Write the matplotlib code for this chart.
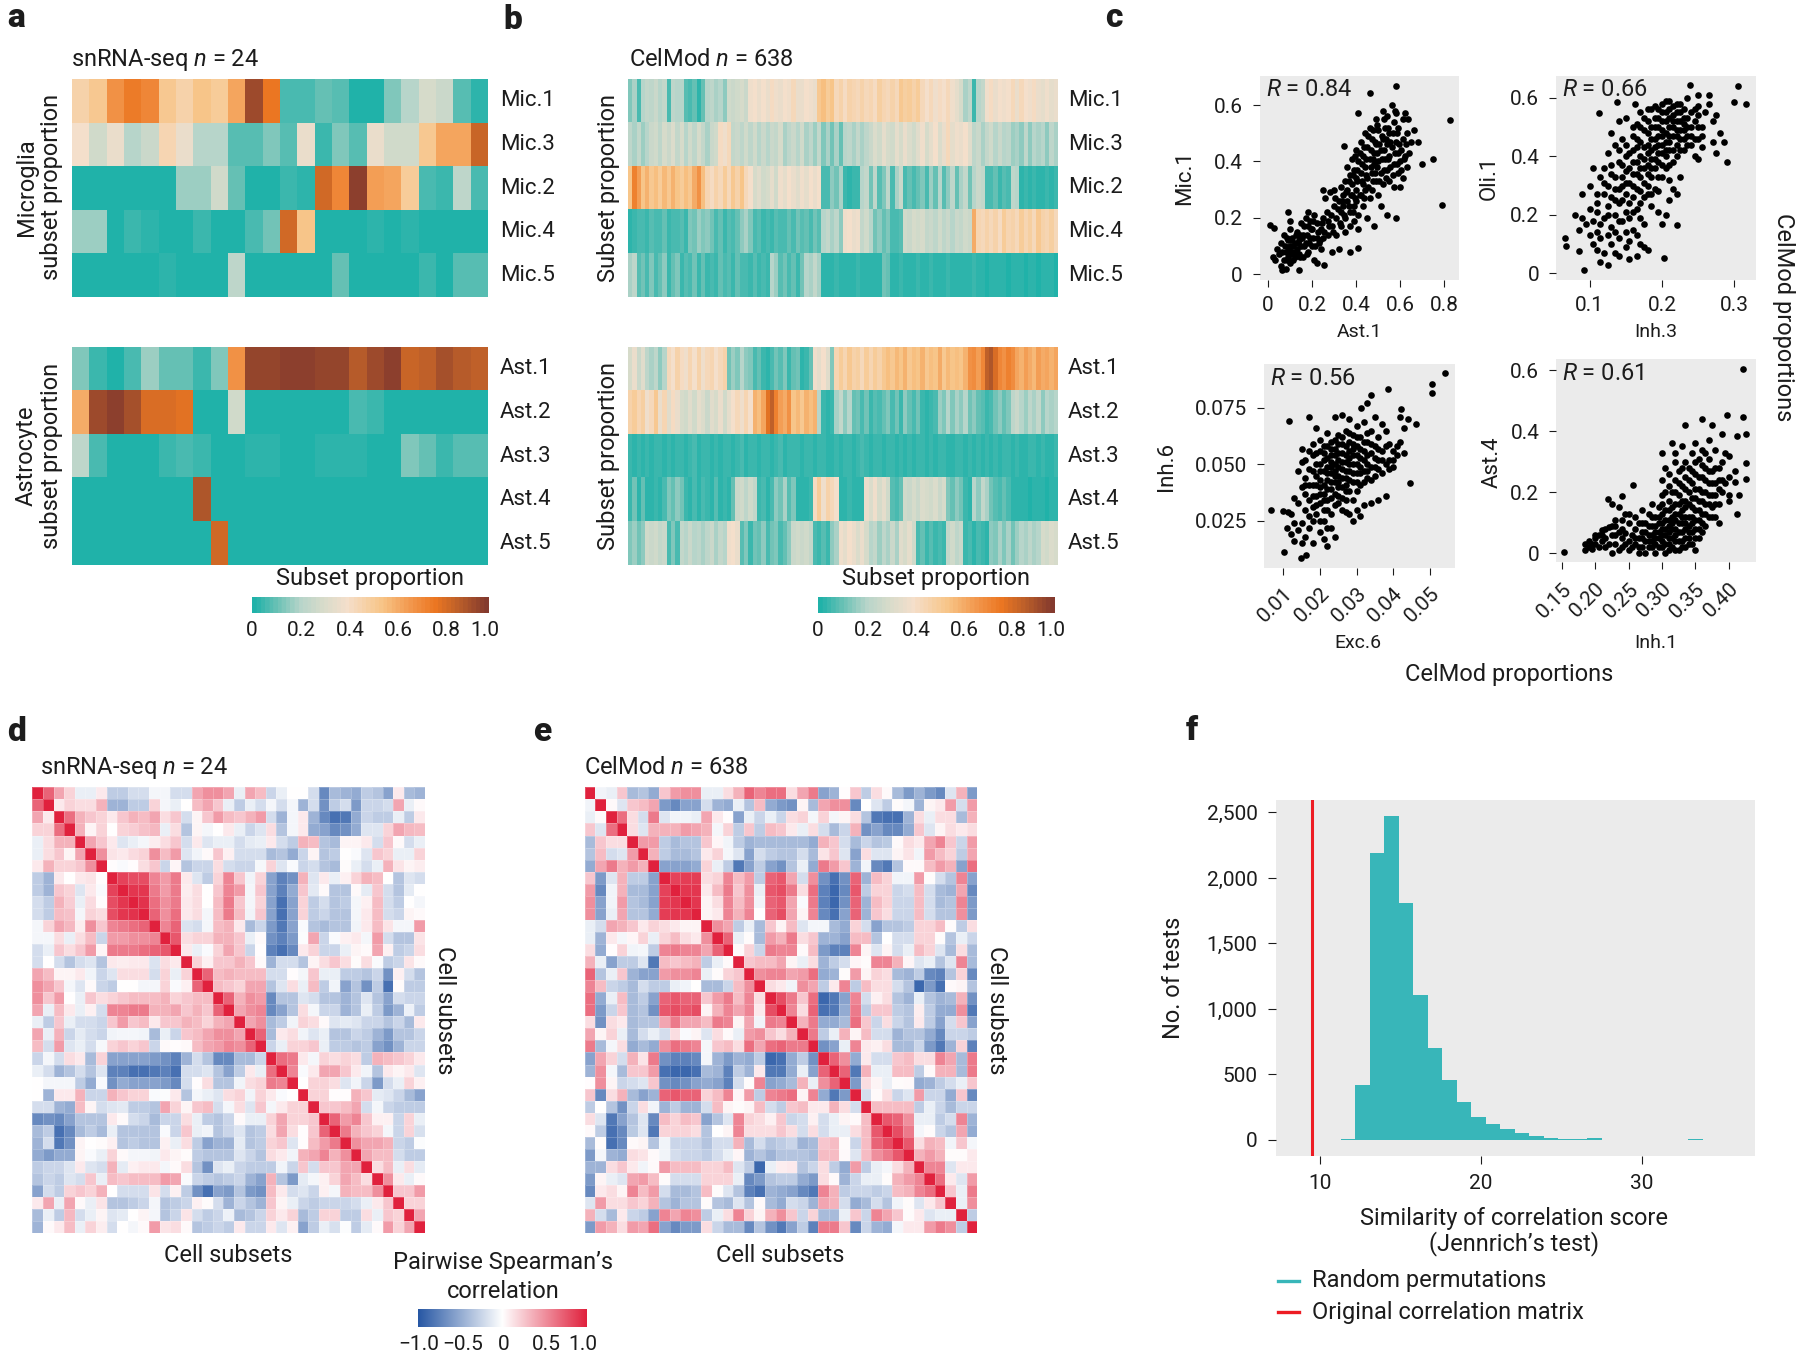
#!/usr/bin/env python3
"""Cell subset proportions: snRNA-seq vs CelMod heatmaps, scatters, correlation matrices."""
import matplotlib as mpl
mpl.use("Agg")
import matplotlib.pyplot as plt
import numpy as np
from matplotlib.colors import LinearSegmentedColormap

W, H = 1800, 1357
INK = "#1c1c1c"
FS = 17
mpl.rcParams.update({
    "font.family": ["Roboto", "DejaVu Sans"], "font.size": 15, "text.color": INK,
    "mathtext.fontset": "custom", "mathtext.it": "Roboto:italic", "mathtext.rm": "Roboto",
    "axes.edgecolor": INK, "xtick.color": INK, "ytick.color": INK,
})

MIC_LABELS = ["Mic.1", "Mic.3", "Mic.2", "Mic.4", "Mic.5"]
AST_LABELS = ["Ast.1", "Ast.2", "Ast.3", "Ast.4", "Ast.5"]

# panel a, one row per subset, 24 donors
SN_MIC = [
    [.48, .52, .68, .76, .73, .53, .48, .55, .5, .63, .93, .78, .07, .07, .09, .08, .01, .01, .13, .2, .3, .26, .08, .03],
    [.4, .27, .36, .2, .25, .45, .37, .2, .2, .08, .08, .14, .08, .36, .04, .13, .08, .37, .27, .27, .53, .63, .63, .85],
    [0, 0, 0, 0, 0, 0, .17, .17, .27, .1, 0, 0, .04, .03, .83, .72, .98, .66, .63, .5, .07, .05, .22, .07],
    [.17, .17, 0, .05, .03, 0, 0, .05, 0, 0, .07, .12, .83, .54, 0, 0, 0, .02, 0, .02, 0, 0, 0, 0],
    [0, 0, 0, 0, 0, .03, 0, 0, 0, .23, 0, 0, 0, 0, 0, .1, 0, 0, 0, 0, .05, 0, .08, .08],
]
SN_AST = [
    [.13, .04, .01, .06, .17, .1, .1, .05, .13, .68, .95, .96, .98, .98, .95, .95, .88, .94, .98, .84, .86, .92, .88, .86],
    [.62, .93, .98, .92, .82, .82, .79, 0, 0, .27, 0, 0, 0, 0, 0, 0, .06, .04, 0, 0, 0, 0, 0, 0],
    [.23, .07, 0, 0, 0, .05, .07, .05, 0, 0, .03, .03, 0, 0, .03, .03, .03, 0, 0, .14, .1, .05, .08, .08],
    [0, 0, 0, 0, 0, 0, 0, .9, 0, 0, 0, 0, 0, 0, 0, 0, 0, 0, 0, 0, 0, 0, 0, 0],
    [0, 0, 0, 0, 0, 0, 0, 0, .83, 0, 0, 0, 0, 0, 0, 0, 0, 0, 0, 0, 0, 0, 0, 0],
]

# panel b, read as 100 bins across the 638 samples, in percent
CM_MIC = [
    [14, 18, 7, 20, 24, 22, 25, 20, 24, 6, 22, 20, 21, 8, 6, 9, 3, 9, 20, 23, 18, 21, 16, 28, 25, 27, 29, 26,
     38, 41, 36, 40, 37, 42, 38, 36, 41, 38, 43, 37, 36, 41, 39, 37, 52, 56, 50, 54, 44, 47, 42, 48, 45, 43, 47, 44,
     46, 42, 49, 45, 43, 47, 44, 52, 49, 51, 48, 50, 44, 41, 43, 39, 42, 40, 43, 38, 35, 30, 18, 22, 5, 20, 24,
     39, 42, 36, 41, 38, 40, 43, 37, 44, 41, 39, 42, 36, 34, 38, 35, 37],
    [22, 18, 24, 17, 20, 25, 28, 22, 30, 26, 31, 24, 29, 21, 27, 23, 30, 24, 19, 26, 28, 42, 38, 44,
     24, 26, 22, 28, 23, 27, 21, 25, 20, 26, 24, 29, 18, 22, 25, 20, 27, 19, 23, 17, 24, 14, 18, 12, 19, 9,
     20, 23, 18, 24, 19, 22, 25, 32, 28, 35, 30, 27, 34, 29, 36, 31, 27, 33, 38, 30, 35, 41, 32, 37, 43, 34, 39, 36, 40, 33,
     22, 26, 19, 24, 28, 21, 25, 20, 23, 17, 19, 15, 22, 16, 20, 18, 21, 16, 23, 19],
    [55, 74, 66, 55, 60, 52, 57, 50, 58, 53, 60, 55, 50, 57, 52, 62, 68, 56, 46, 42, 48, 44, 50, 43, 52, 47, 54, 44, 41,
     30, 33, 27, 29, 35, 28, 38, 34, 40, 36, 33, 39, 35, 41, 37, 40, 7, 6, 16, 12, 18, 4, 3, 5, 4,
     20, 24, 12, 22, 8, 14, 23, 6, 19, 25, 7, 9, 6, 10, 14, 6, 17, 10, 20, 8, 15, 22, 9, 18, 24, 12, 20, 26, 24,
     7, 6, 9, 5, 8, 7, 22, 20, 3, 4, 2, 5, 3, 2, 4, 3, 5],
    [2, 5, 6, 7, 5, 8, 6, 7, 9, 5, 7, 6, 8, 5, 14, 12, 17, 13, 15, 11, 7, 9, 5, 8, 6, 9, 15, 18, 13,
     6, 8, 5, 7, 4, 8, 6, 7, 9, 7, 11, 8, 10, 7, 12, 8, 20, 24, 18, 22, 16, 38, 40, 37, 39, 24, 27, 20, 12, 15, 10, 14,
     7, 6, 8, 28, 26, 30, 27, 29, 24, 26, 22, 27, 23, 25, 21, 26, 24, 28, 25,
     62, 46, 43, 48, 44, 47, 42, 50, 45, 48, 43, 51, 46, 49, 44, 52, 47, 45, 49, 43],
    [18, 22, 8, 12, 7, 14, 6, 10, 16, 5, 9, 13, 4, 8, 6, 11, 5, 9, 4, 7, 5, 10, 6, 8, 4, 9, 6, 7, 5, 8,
     4, 6, 5, 20, 17, 8, 11, 6, 9, 5, 12, 21, 18, 24, 19,
     2, 3, 2, 4, 2, 3, 3, 2, 4, 3, 2, 3, 2, 3, 12, 9, 3, 2, 4, 3, 3, 2, 4, 3, 2, 5, 3, 2, 3, 4,
     2, 3, 2, 2, 3, 4, 2, 3, 1, 2, 3, 2, 2, 1, 2, 3, 2, 1, 2, 2, 1, 2, 3, 2, 1],
]
CM_AST = [
    [30, 36, 25, 33, 22, 18, 22, 16, 20, 44, 40, 47, 42, 38, 45, 41, 47, 39, 44, 46, 40, 43, 48, 12, 17, 14, 20, 16, 13,
     7, 10, 5, 3, 6, 12, 8, 14, 5, 9, 11, 3, 5, 9, 38, 34, 40, 33, 14, 46, 50, 45, 52, 47, 49, 44, 51, 46, 50, 48, 52,
     56, 53, 58, 54, 60, 52, 57, 55, 59, 53, 56, 54, 61, 52, 58, 55, 57, 54, 60, 68, 70, 66, 72, 86, 90, 82,
     72, 68, 74, 70, 63, 60, 66, 62, 58, 65, 61, 64, 59, 63],
    [47, 51, 45, 49, 38, 44, 52, 36, 46, 33, 42, 37, 30, 27, 33, 28, 35, 31, 26, 33, 29, 36, 27, 34,
     40, 44, 38, 45, 41, 60, 56, 63, 80, 86, 74, 66, 62, 69, 54, 58, 52, 60, 56, 59, 20, 4, 3, 5, 18, 24, 16, 21,
     9, 12, 7, 11, 5, 8, 6, 10, 13, 7, 11, 5, 16, 9, 6, 12, 5, 3, 4, 6, 17, 14, 20, 13, 18, 15, 21, 12, 16, 10, 8,
     5, 7, 12, 15, 10, 13, 22, 25, 20, 17, 23, 19, 24, 16, 21, 18, 20],
    [4, 3, 5, 3, 4, 2, 4, 5, 3, 4, 3, 5, 4, 3, 4, 6, 3, 4, 5, 3, 4, 3, 5, 4, 3, 4, 6, 3, 5, 4,
     3, 4, 5, 3, 4, 6, 3, 4, 5, 4, 3, 5, 4, 3, 4, 5, 2, 3, 4, 3, 5, 4, 3, 4, 6, 4, 3, 5, 4, 3,
     4, 5, 3, 4, 2, 4, 3, 5, 4, 3, 4, 3, 5, 4, 2, 3, 4, 5, 3, 4, 3, 4, 2, 5, 3, 4, 3, 5, 4, 3,
     4, 3, 2, 4, 5, 3, 4, 2, 3, 4],
    [5, 12, 3, 10, 3, 2, 4, 3, 6, 14, 10, 16, 12, 5, 3, 7, 2, 6, 4, 3, 8, 2, 5, 3, 9, 25, 28, 22, 27, 24,
     4, 7, 3, 6, 16, 12, 18, 8, 14, 3, 2, 3, 4, 42, 50, 38, 48, 44, 40, 3, 2, 4, 3, 2, 3, 36, 32, 38, 30, 34, 28,
     8, 6, 9, 28, 25, 30, 26, 32, 29, 27, 31, 25, 29, 13, 10, 15, 11, 4, 3, 20, 16, 24, 18, 12, 8, 6, 10, 7,
     3, 2, 2, 3, 1, 2, 3, 2, 1, 2, 2],
    [14, 17, 11, 15, 27, 25, 28, 24, 26, 6, 14, 7, 24, 21, 26, 20, 23, 19, 22, 25, 18, 24, 21, 38, 40, 36,
     8, 14, 5, 12, 9, 15, 7, 11, 13, 6, 10, 16, 26, 28, 25, 27, 24, 6, 4, 8, 5, 15, 18, 38, 34, 40, 36, 32, 37, 30,
     20, 24, 17, 22, 19, 25, 18, 33, 30, 35, 28, 6, 9, 5, 8, 4, 7, 5, 24, 27, 22, 26, 4, 7, 3, 6, 5, 3,
     16, 13, 18, 14, 19, 12, 17, 21, 19, 23, 18, 20, 30, 28, 31, 29],
]

# panel c, (x, y)
AST1_MIC1 = [(.582, .669), (.462, .641), (.409, .57), (.823, .546), (.789, .245), (.749, .407), (.7, .392), (.344, .456),
    (.01, .174), (.028, .165), (.406, .092), (.372, .079), (.255, .034), (.141, .013), (.062, .014),
    (.02, .06), (.03, .05), (.04, .09), (.05, .07), (.06, .03), (.06, .11), (.07, .05), (.07, .14), (.08, .08), (.08, .02),
    (.09, .12), (.09, .06), (.1, .1), (.1, .04), (.1, .16), (.11, .08), (.11, .13), (.12, .06), (.12, .11), (.09, .22), (.1, .19),
    (.13, .09), (.13, .15), (.14, .07), (.14, .12), (.15, .1), (.15, .18), (.16, .06), (.16, .14), (.17, .2), (.17, .11), (.18, .08),
    (.18, .17), (.18, .22), (.19, .13), (.19, .19), (.2, .1), (.2, .16), (.21, .21), (.21, .05), (.22, .13), (.22, .18), (.22, .04),
    (.23, .11), (.24, .16), (.24, .09), (.25, .2), (.25, .13), (.25, .3), (.26, .27), (.27, .19), (.27, .14), (.28, .29), (.29, .08),
    (.29, .17), (.3, .24), (.3, .3), (.31, .2), (.31, .14), (.32, .26), (.32, .09), (.33, .22), (.33, .31), (.33, .17), (.34, .28),
    (.34, .24), (.35, .2), (.35, .33), (.35, .15), (.36, .26), (.36, .38), (.36, .3), (.37, .22), (.37, .35), (.37, .17), (.38, .28),
    (.38, .41), (.38, .32), (.39, .24), (.39, .37), (.39, .19), (.4, .3), (.4, .34), (.4, .26), (.4, .44), (.41, .4), (.41, .21),
    (.41, .16), (.42, .28), (.42, .36), (.42, .47), (.43, .32), (.43, .42), (.43, .24), (.44, .38), (.44, .3), (.44, .5), (.45, .45),
    (.45, .34), (.45, .2), (.46, .41), (.46, .27), (.46, .52), (.47, .36), (.47, .48), (.47, .3), (.48, .43), (.48, .17), (.48, .39),
    (.49, .33), (.49, .55), (.49, .46), (.5, .4), (.5, .28), (.5, .51), (.51, .36), (.51, .44), (.51, .24), (.52, .48), (.52, .58),
    (.52, .32), (.53, .41), (.53, .52), (.54, .37), (.54, .46), (.54, .56), (.54, .21), (.55, .33), (.55, .42), (.55, .5), (.56, .6),
    (.56, .45), (.57, .39), (.57, .54), (.57, .31), (.58, .47), (.58, .57), (.58, .2), (.59, .36), (.59, .43), (.59, .52), (.6, .4),
    (.6, .31), (.61, .48), (.61, .55), (.61, .34), (.62, .42), (.62, .57), (.63, .38), (.63, .5), (.64, .43), (.65, .47), (.66, .51), (.68, .47),
    (.065, .08), (.075, .1), (.085, .05), (.085, .13), (.095, .09), (.105, .07), (.105, .12), (.115, .05), (.115, .1), (.125, .14),
    (.125, .08), (.135, .11), (.145, .06), (.145, .14), (.155, .13), (.165, .1), (.165, .17), (.175, .14), (.175, .07), (.185, .11),
    (.195, .16), (.205, .13), (.205, .19), (.215, .1), (.225, .15), (.235, .12), (.245, .18), (.255, .15), (.265, .22), (.275, .17),
    (.285, .21), (.295, .15), (.305, .27), (.315, .23), (.325, .18), (.335, .26), (.345, .21), (.355, .29), (.365, .24), (.365, .33),
    (.375, .28), (.385, .35), (.385, .22), (.395, .27), (.395, .42), (.405, .33), (.405, .37), (.415, .28), (.415, .43), (.425, .33),
    (.425, .39), (.435, .27), (.435, .45), (.445, .35), (.445, .41), (.455, .31), (.455, .49), (.465, .38), (.465, .44), (.475, .33),
    (.475, .41), (.475, .51), (.485, .36), (.485, .47), (.495, .43), (.495, .38), (.495, .53), (.505, .33), (.505, .46), (.515, .41),
    (.515, .49), (.525, .37), (.525, .44), (.525, .55), (.535, .34), (.535, .48), (.545, .41), (.545, .52), (.555, .38), (.555, .47),
    (.565, .35), (.565, .5), (.575, .43), (.575, .58), (.585, .39), (.585, .5), (.595, .46), (.605, .37), (.605, .44), (.615, .41),
    (.625, .46), (.635, .55)]
INH3_OLI1 = [(.239, .642), (.305, .64), (.299, .585), (.316, .577), (.289, .38), (.274, .41), (.113, .549), (.138, .584), (.163, .577),
    (.066, .122), (.067, .095), (.093, .011), (.203, .054), (.221, .166), (.086, .076),
    (.08, .2), (.085, .15), (.09, .19), (.09, .27), (.095, .17), (.1, .13), (.1, .22), (.1, .3), (.105, .1), (.105, .18), (.105, .36),
    (.11, .08), (.11, .14), (.11, .24), (.11, .21), (.115, .04), (.115, .12), (.115, .17), (.115, .33), (.12, .07), (.12, .19), (.12, .27),
    (.12, .36), (.125, .03), (.125, .13), (.125, .23), (.125, .3), (.125, .41), (.13, .1), (.13, .16), (.13, .26), (.13, .34), (.13, .48),
    (.135, .07), (.135, .14), (.135, .2), (.135, .29), (.135, .44), (.14, .06), (.14, .12), (.14, .24), (.14, .38), (.14, .52), (.145, .18),
    (.145, .3), (.145, .33), (.145, .46), (.15, .09), (.15, .14), (.15, .21), (.15, .27), (.15, .4), (.15, .53), (.155, .05), (.155, .11),
    (.155, .19), (.155, .36), (.155, .31), (.16, .15), (.16, .21), (.16, .26), (.16, .42), (.16, .38), (.16, .47), (.165, .06), (.165, .13),
    (.165, .34), (.165, .29), (.165, .51), (.17, .1), (.17, .19), (.17, .24), (.17, .4), (.17, .36), (.17, .45), (.17, .55), (.175, .09),
    (.175, .17), (.175, .31), (.175, .43), (.175, .49), (.18, .08), (.18, .27), (.18, .37), (.18, .41), (.18, .34), (.18, .52), (.185, .23),
    (.185, .39), (.185, .46), (.185, .56), (.19, .29), (.19, .36), (.19, .43), (.19, .5), (.19, .57), (.195, .21), (.195, .28), (.195, .38),
    (.195, .47), (.195, .53), (.2, .17), (.2, .33), (.2, .41), (.2, .49), (.2, .55), (.205, .2), (.205, .45), (.205, .52), (.205, .59),
    (.205, .36), (.21, .25), (.21, .32), (.21, .42), (.21, .5), (.21, .56), (.215, .29), (.215, .47), (.215, .54), (.215, .38), (.22, .27),
    (.22, .44), (.22, .52), (.22, .58), (.225, .33), (.225, .49), (.225, .55), (.23, .46), (.23, .42), (.23, .53), (.235, .5), (.235, .6),
    (.24, .55), (.24, .44), (.24, .47), (.245, .4), (.245, .52), (.25, .57), (.25, .46), (.25, .39), (.255, .5), (.255, .43), (.26, .55),
    (.265, .61), (.265, .58), (.27, .52), (.27, .45), (.275, .54), (.28, .48), (.285, .45), (.25, .61),
    (.11, .27), (.12, .31), (.125, .2), (.13, .37), (.135, .25), (.135, .33), (.14, .29), (.14, .18), (.14, .42), (.145, .25), (.145, .37),
    (.15, .31), (.15, .35), (.15, .44), (.155, .24), (.155, .41), (.16, .3), (.16, .34), (.16, .5), (.165, .22), (.165, .38), (.165, .43),
    (.165, .46), (.17, .28), (.17, .33), (.17, .5), (.175, .26), (.175, .36), (.175, .39), (.175, .53), (.18, .3), (.18, .44), (.18, .48),
    (.18, .56), (.185, .27), (.185, .33), (.185, .36), (.185, .42), (.185, .5), (.19, .39), (.19, .46), (.19, .53), (.195, .33), (.195, .41),
    (.195, .44), (.195, .5), (.195, .56), (.2, .37), (.2, .44), (.2, .47), (.2, .52), (.2, .58), (.205, .4), (.205, .42), (.205, .48),
    (.205, .55), (.21, .37), (.21, .45), (.21, .47), (.21, .53), (.21, .59), (.215, .42), (.215, .5), (.215, .52), (.215, .57), (.22, .4),
    (.22, .47), (.22, .49), (.22, .55), (.225, .42), (.225, .46), (.225, .52), (.225, .58), (.23, .49), (.23, .51), (.23, .56), (.235, .44),
    (.235, .47), (.235, .53), (.24, .5), (.245, .46), (.245, .56), (.25, .5), (.25, .54), (.255, .47)]
EXC6_INH6 = [(.0542, .0904), (.0507, .0855), (.0506, .0815), (.0386, .0834), (.0339, .0808), (.0329, .0771), (.0313, .0751), (.0116, .0692),
    (.0171, .0709), (.0067, .03), (.0446, .0416), (.0463, .0679), (.0423, .0747), (.0102, .011), (.0149, .0083), (.0161, .0098),
    (.0098, .0294), (.0112, .0291),
    (.011, .022), (.012, .019), (.012, .028), (.013, .016), (.013, .024), (.013, .035), (.014, .047), (.014, .021), (.014, .033), (.015, .015),
    (.015, .024), (.015, .04), (.015, .051), (.015, .057), (.016, .018), (.016, .03), (.016, .037), (.016, .044), (.016, .052), (.017, .022),
    (.017, .027), (.017, .034), (.017, .048), (.017, .056), (.018, .015), (.018, .025), (.018, .031), (.018, .041), (.018, .054), (.018, .059),
    (.019, .028), (.019, .036), (.019, .045), (.019, .05), (.019, .066), (.02, .02), (.02, .033), (.02, .04), (.02, .047), (.02, .056), (.02, .061),
    (.021, .017), (.021, .025), (.021, .03), (.021, .037), (.021, .052), (.021, .058), (.022, .014), (.022, .022), (.022, .034), (.022, .043),
    (.022, .049), (.022, .064), (.023, .028), (.023, .039), (.023, .046), (.023, .054), (.023, .06), (.024, .018), (.024, .032), (.024, .042),
    (.024, .05), (.024, .057), (.024, .071), (.025, .036), (.025, .045), (.025, .052), (.025, .063), (.026, .03), (.026, .04), (.026, .048),
    (.026, .055), (.026, .059), (.026, .072), (.027, .034), (.027, .044), (.027, .051), (.027, .065), (.028, .028), (.028, .038), (.028, .047),
    (.028, .056), (.028, .06), (.028, .07), (.029, .025), (.029, .042), (.029, .05), (.029, .054), (.029, .063), (.03, .03), (.03, .046),
    (.03, .058), (.03, .067), (.031, .027), (.031, .041), (.031, .053), (.031, .062), (.032, .032), (.032, .047), (.032, .056), (.032, .069),
    (.033, .044), (.033, .05), (.033, .06), (.034, .033), (.034, .043), (.034, .055), (.034, .065), (.035, .049), (.035, .058), (.035, .071),
    (.036, .034), (.036, .052), (.036, .062), (.037, .046), (.037, .056), (.037, .068), (.038, .036), (.038, .05), (.038, .065), (.039, .052),
    (.039, .059), (.04, .049), (.04, .056), (.041, .054), (.042, .06), (.042, .071), (.043, .055), (.043, .066), (.044, .07), (.041, .058),
    (.016, .041), (.017, .041), (.018, .047), (.018, .036), (.019, .032), (.019, .041), (.019, .055), (.02, .037), (.02, .043), (.02, .05),
    (.02, .025), (.021, .041), (.021, .047), (.021, .055), (.021, .034), (.022, .03), (.022, .039), (.022, .046), (.022, .053), (.022, .058),
    (.023, .035), (.023, .042), (.023, .049), (.023, .051), (.023, .057), (.023, .022), (.024, .037), (.024, .045), (.024, .047), (.024, .054),
    (.024, .061), (.025, .033), (.025, .04), (.025, .042), (.025, .049), (.025, .055), (.025, .059), (.026, .035), (.026, .044), (.026, .051),
    (.026, .062), (.027, .038), (.027, .041), (.027, .047), (.027, .054), (.027, .058), (.027, .029), (.028, .043), (.028, .05), (.028, .053),
    (.028, .064), (.029, .034), (.029, .046), (.029, .057), (.029, .059), (.03, .038), (.03, .042), (.03, .05), (.03, .054), (.03, .062),
    (.031, .046), (.031, .049), (.031, .057), (.032, .042), (.032, .052), (.032, .06), (.033, .047), (.033, .054), (.033, .064), (.034, .049),
    (.034, .059), (.035, .045), (.035, .053), (.036, .057), (.036, .048), (.037, .052), (.038, .058), (.039, .048), (.04, .052)]
INH1_AST4 = [(.421, .605), (.154, .004), (.3975, .452), (.421, .448), (.334, .421), (.36, .439), (.257, .224), (.24, .189), (.2195, .177),
    (.412, .127), (.426, .39), (.426, .297), (.426, .243), (.412, .385),
    (.185, .01), (.185, .03), (.19, .02), (.19, .04), (.195, .015), (.2, .03), (.2, .05), (.205, .02), (.205, .06), (.21, .04), (.21, .075),
    (.215, .02), (.215, .05), (.22, .085), (.22, .03), (.225, .0), (.225, .06), (.225, .16), (.23, .03), (.23, .09), (.23, .11), (.235, .15),
    (.235, .01), (.24, .05), (.24, .02), (.24, .11), (.245, .03), (.245, .065), (.25, .13), (.25, .01), (.25, .04), (.25, .1), (.255, .06),
    (.255, .02), (.26, .08), (.26, .03), (.26, .12), (.265, .0), (.265, .05), (.265, .1), (.27, .02), (.27, .07), (.27, .14), (.275, .04),
    (.275, .1), (.275, .0), (.28, .06), (.28, .13), (.28, .02), (.285, .09), (.285, .16), (.285, .04), (.29, .0), (.29, .07), (.29, .12),
    (.29, .03), (.295, .15), (.295, .05), (.295, .1), (.3, .02), (.3, .08), (.3, .19), (.3, .33), (.3, .24), (.3, .13), (.305, .0), (.305, .06),
    (.305, .11), (.305, .28), (.31, .03), (.31, .09), (.31, .17), (.31, .22), (.31, .26), (.31, .14), (.315, .05), (.315, .12), (.315, .2),
    (.315, .36), (.32, .01), (.32, .08), (.32, .16), (.32, .24), (.32, .3), (.32, .33), (.325, .04), (.325, .1), (.325, .19), (.325, .27),
    (.33, .02), (.33, .07), (.33, .14), (.33, .22), (.33, .35), (.335, .05), (.335, .12), (.335, .17), (.335, .25), (.335, .3), (.34, .03),
    (.34, .09), (.34, .2), (.34, .28), (.345, .07), (.345, .15), (.345, .23), (.345, .33), (.35, .01), (.35, .05), (.35, .11), (.35, .18),
    (.35, .26), (.35, .36), (.355, .08), (.355, .14), (.355, .21), (.355, .31), (.36, .1), (.36, .17), (.36, .25), (.36, .34), (.365, .13),
    (.365, .2), (.365, .28), (.37, .16), (.37, .23), (.37, .31), (.37, .37), (.375, .12), (.375, .19), (.375, .27), (.375, .42), (.38, .16),
    (.38, .23), (.38, .34), (.385, .1), (.385, .21), (.385, .28), (.39, .24), (.39, .39), (.395, .33), (.4, .19), (.4, .17), (.4, .32),
    (.41, .27), (.41, .235), (.415, .19),
    (.195, .03), (.2, .06), (.21, .06), (.215, .08), (.225, .09), (.23, .06), (.235, .07), (.24, .08), (.245, .13),
    (.26, .05), (.265, .02), (.27, .05), (.27, .1), (.275, .07), (.28, .04), (.28, .09), (.285, .02), (.285, .06), (.285, .12), (.29, .05),
    (.29, .09), (.295, .02), (.295, .07), (.295, .12), (.3, .04), (.3, .06), (.3, .1), (.3, .16), (.305, .03), (.305, .08), (.305, .14),
    (.305, .2), (.31, .01), (.31, .05), (.31, .07), (.31, .11), (.315, .02), (.315, .08), (.315, .1), (.315, .15), (.32, .04), (.32, .06),
    (.32, .11), (.32, .13), (.32, .2), (.325, .01), (.325, .07), (.325, .13), (.325, .16), (.325, .23), (.33, .04), (.33, .1), (.33, .12),
    (.33, .17), (.33, .28), (.335, .02), (.335, .08), (.335, .1), (.335, .15), (.335, .21), (.34, .05), (.34, .07), (.34, .12), (.34, .16),
    (.34, .24), (.345, .03), (.345, .1), (.345, .12), (.345, .18), (.345, .27), (.35, .08), (.35, .14), (.35, .21), (.35, .3), (.355, .05),
    (.355, .11), (.355, .17), (.355, .25), (.36, .07), (.36, .13), (.36, .2), (.36, .29), (.365, .09), (.365, .16), (.365, .24), (.365, .33),
    (.37, .12), (.37, .19), (.37, .27), (.375, .15), (.375, .23), (.38, .12), (.38, .19), (.38, .28), (.385, .16), (.385, .24), (.39, .2),
    (.39, .3), (.395, .23), (.4, .25)]

# panels d, e: upper triangle of the 37 x 37 matrices, in tenths
CORR_SN = [
    [7, 4, 2, -1, -1, 1, -3, -3, -2, -2, -.5, -.5, -2, -2, 4, 5, 5, 4, -1, 4, 3, -2.5, -1, 0, 0, -2, -7, -4, -4.5, -5, -3, -3.5, -5.5, 1, -4, -4.5],
    [1, 2, 1.5, 1.5, 3.5, -4.5, -4.5, -3, -3, 2, -.5, -1, 0, 3, 4, 2.5, -1, -3, -1, -2, -.5, -2, -.5, -4.5, -2, -6.5, -3, -2, -6, -2.5, -2.5, -2, 4, -1, .3],
    [6.5, 3.5, 2.5, 2, 1, 2.5, 3.5, 3, 4, 1.5, 2.5, -2, .5, 2.5, 4.5, 3, 2.5, 3.5, 4.5, -2, -4.5, -.5, 1, -4.5, -7, -8.5, -8, -5, -2.5, -3, -3, -1, -3, 1],
    [3.5, .5, 2, 0, 2, 2.2, 2.8, 3.2, -1, 1.5, -3.5, .5, -.5, 0, 1, -1, -2.5, -1.5, 1.5, -3.5, -.5, 1, -5, -5.5, -7, -6.5, -5, -1.5, -1.5, 2, 4, 3.2, 3],
    [4, 2.5, 1, -1.5, -1, -.5, .8, 1.5, 2.5, -2, 1, -1.5, -1, -1, -2, -1.2, -1, 1, -2, -3, 3.5, 3, -3.5, -4, .5, .5, 1, -2, 2.5, .3, -2, -1],
    [5, 1.2, 1, 1.6, 2, 5, 3, 4.5, -1.5, -.7, .3, 2.5, .7, -2, -2, -2, -4, -3.5, -5, -2.5, .5, -3.5, -3, 0, -.3, -1.5, 2.5, 2, -1, -1, 2],
    [.1, -.3, .1, 1.5, 2.5, -2.5, .4, -3.5, -2.5, -2.5, 1.5, -2, -2.5, -2.5, -.4, 2, -1.5, -.3, -2.5, -2, -3.5, -4, .2, -1, -2, -1, 3.5, 1.2, .5, .8],
    [8.5, 8, 8, 5.5, 4.5, 6, 1, -1.5, -3, 2, 5.5, 2.5, -.7, 2, -5.5, -7.5, -6.5, 3.5, -1.5, 1, -1, .7, 2, 3.5, 3, 0, -3.5, -1.5, -2],
    [9, 9, 6, 4.5, 6, .8, 1.5, 0, 2.5, 5.5, 4.5, -.5, 2.5, -5.5, -7.5, -5, 2.5, -1.3, .3, -3.5, -3.5, .3, -1.2, 2.5, -2, -3.5, -1.2, 0],
    [9.2, 6.5, 5, 6, 1, 1.5, 0, 3, 6, 2.5, -.5, 2, -5.5, -8.5, -5.5, 2, -3, -2, -3.5, -3, -.5, .7, 3, -2, -3, 0, -.5],
    [7, 5, 6.5, 1, 1.5, -.5, 3, 6, 3, -.7, 2.5, -5.5, -8.5, -5.5, 2, -3, -2.5, -3.5, -3.5, -.5, 1, 3, -2, -2.5, .5, .3],
    [5.5, 7, -1.7, -2, -.5, 3, 3.5, 1, -4, -2.5, -6, -8, -5.5, -.3, -3.5, -4, -3.5, -3.5, -.7, 1, 3, 1.2, -.5, -.5, 4.5],
    [7.5, 1.5, 2, 2, 3.5, 3.5, 2.5, -1, .3, -6.5, -7.5, -6, -.2, 4, -2.5, -.3, .7, 1, -.5, 4.5, -2, -3.5, -3.5, 1.2],
    [1, -1, -.3, 2, 4, 2.5, -2.5, .1, -7.5, -8.5, -7, 1, 2, -2.5, -2.5, -1, .5, .3, 4, .7, -3, -2.5, 1.5],
    [2, .7, 2.5, 2.5, 3.5, 2.5, .3, -4.5, -2, -2, -3.5, .5, 1.5, 2.5, 1.5, .2, 1.5, -.3, -3, -2.5, 1.2, .3],
    [7, 3, 3.5, 3, 3, 3, -2, -2, .1, -.5, 2.5, -1, -1, -3, -3, -3.5, -2.5, -6.5, .7, -2, -3.5],
    [3, 2.5, 2, 4, 4, -3.5, -1.5, 1.5, -1, 3, -3, -.7, -5.5, -3.5, -6.5, -3, -8.5, .2, -3, -3],
    [7, 3.5, 5, 4.5, -7, -3.5, -3.5, -1.5, -2, -3.5, -3.5, -4.5, -3.5, -1.5, -3.5, -5.5, -2, -2.5, -2.5],
    [4, 5, 5.5, -7, -5.5, -3.5, 1.5, -.5, -2.5, -2.5, -4.5, -3.5, -1, -3, -6, -4.5, -.8, -3],
    [4, 5, -4, -3, -.7, 2, 1.5, .3, -1.5, -1.2, -1.5, -2.5, -2.5, -3.5, -2.5, -4, 1],
    [7, -4, 1, 1.5, -.7, -1.5, -1, -3.5, -3.5, -2.5, -3, -4.5, -6, -3.5, -3.5, -2.5],
    [-2.5, -1, 2, 2, 2.5, -1, -3, -3, -3.5, -3, -5.5, -6.5, -4.5, -2.5, -2.5],
    [6.5, 6, 1, -.5, 2, 1.5, 2, 1.5, -3, 3.5, 3, 2.5, 2, 1],
    [5.5, -.3, 1, 4, 4, 2.5, 1, -.7, -3.5, 1, .5, 1, -1.5],
    [0, 2, 2, 1.5, -1.5, -.7, -2.5, -6, -2, -1, 2, .7],
    [2, 2, .1, .1, 3.5, 2.5, -1.2, -1.5, -2.5, -4, -5.5],
    [2.5, 2.5, 3, 4, -2, -.5, -2.5, -3, -3, -3],
    [7, 4.5, 5.5, 2.5, .7, .7, -2.5, 2, -1],
    [6, 3.5, 2.5, 2, -.5, -2.5, 2, -1.8],
    [5, 4, 4, 3.5, -2.5, -3, -.2],
    [4, 3, 3, -2, -3, -3],
    [1.5, 3, -1, 1.5, -1.2],
    [5, 1, -1, .3],
    [2.5, 2.5, 4.5],
    [2, 2],
    [4],
]
CORR_CM = [
    [-.7, -1, 2.5, -4, -3.5, -5, 2.5, 4.5, 5, 5, -1, -1, 1.5, 3.5, 7, 5.5, 6.5, 6.5, 1.5, 4, 6, -5.5, -4.5, .1, 2.5, -3, 1.5, .3, -4, -6, -4.5, -6, -7, -1.5, 3.5, -6],
    [.3, -1.5, 2.5, 3, 4, -6, -7, -5.5, -5.5, -2, -4.5, -5, -1, -3.5, 3, -5, -6, -6.5, .5, -4, 4, 5, 5, -7, 0, -1.5, -3, .2, -.5, -4.5, .5, 1, 4.5, -2, 4.5],
    [6.5, 1.5, -2, 6, -1.5, -.7, -.7, -1, 4, 1, .1, -5.5, -1, -2.5, -1, -2.5, 1.5, 2, -.5, 2, -.5, .5, 1.5, -3.5, -8, -8.5, -8.5, -4.5, 1.5, -1, 1.5, 1.5, -4, 3.5],
    [1.5, -1.5, 3.5, 3.5, 3.5, 4.5, 4, 3.5, -.5, 2, -3, 2.5, -3, 3, 2.5, 1, -1, 1.5, -2, -4, -2.5, 3.5, -6.5, -5.5, -7, -7, -5, 2.5, -1.5, .5, 1.5, 1, 1.5],
    [4.5, 4.5, -3, -4, -3.5, -3.5, 2.5, .4, -.7, -3, -4.5, -4, -4, -4, -4, -4, -5, 3.5, 2.5, -2, -4, -2.5, -3.5, -3.2, .3, 1.5, 1, 4, 5.5, 2.5, -2.5, 4.5],
    [3.5, -3, -4, -4, -3.5, 1, 2, -.5, -1.5, -5.5, -2, -3, -3.5, -3.5, -2, -4, 1.2, 2.5, -1.5, -5.5, 1.5, -1.5, -1.5, .5, 1.2, -.7, 4.5, 3, 2, -3, 4],
    [-5.5, -5.5, -5.5, -5, 2, -1, -3, -8, -5.5, -3, -5.5, -6.5, -3.5, -1, -5, 6, 4.5, 2.5, -4.5, -.7, -7, -8, -3.5, .3, .3, 3, 4.5, 3.5, -5.5, 6.5],
    [8.5, 8.7, 8.7, 1.5, 2, 5.5, 3, 4.5, -3, 7, 7.5, 4, -2, 5, -6.5, -8.5, -6.5, 7, -4.5, 3, 2, -.7, -.7, 4.5, .2, -2, -3.5, 5.5, -5.5],
    [9, 9, 1, 3, 6, 2.5, 5, -1, 7.5, 8, 6, 1.5, 6.5, -7.5, -9, -7, 7.5, -3, 2, 2, -2.5, -2, 3, -2, -4, -4.5, 4, -7],
    [9, .5, 1.5, 5.5, 3, 5, -.7, 7, 7.5, 4, -.3, 6, -7.5, -9, -6.5, 7, -4.5, 3, 2, -2.5, -2.5, 3, -2, -4, -3.5, 5.5, -6],
    [.5, 1, 5.5, 3.5, 5.5, 0, 7, 8, 4, .5, 5.5, -7, -8.5, -5.5, 7, -4.5, 2.5, 1.5, -2.5, -2.5, 3, -2, -3.5, -3.5, 5, -6],
    [5, 4, -3, -1, -4, 2.5, .5, 3, -1.5, -.5, -.5, -4, -5, 2, -2, -5.5, -3.5, -3.5, -3, 2, 2, 3, .2, -3, 1.5],
    [7, -1, .2, -4, 4.5, 3.5, 6, 1.5, 2.5, -4.5, -4.5, -5.5, 3, 3, -3.5, 0, -2, -2, 2, 2, .2, -3.5, -1, -2.5],
    [.3, 2, -2.5, 6, 5.5, 5.5, .3, 3, -6, -7.5, -7.5, 5.5, .5, -1.5, .5, -2, -1, 3, 2, -1.5, -4, 1.5, -4],
    [2.5, 3, 3, 4, .5, -1, 1.5, -4.5, -3, -2, .4, .2, 5.5, 5.5, 3.5, .4, -1.5, -1, -3.5, -1.5, 5.5, -4],
    [5, 5.5, 5.5, 4, 4.5, 6.5, -5, -4.5, .2, 4.5, .5, 2, 1.5, -4, -4.5, -3, -7, -7.5, -3.5, 2, -7],
    [1.5, 1, -.7, 5, 4, -3, 1, 5.5, -3, 3, 1.5, 1.5, -2, -3.5, -9, -6, -8.5, .3, .5, -3.5],
    [8, 6, 2.5, 6.5, -9, -8, -5.5, 5.5, -2, .7, 1.5, -3.5, -4.5, -1, -3.5, -4.5, -4, 3.5, -6.5],
    [5.5, 1.5, 7, -8.5, -8, -5, 6, -3, 2.5, 2.5, -3, -3.5, .8, -3, -5, -5, 5, -8],
    [3.5, 6, -5, -5, -4, 6.5, 2.5, -2.5, 1.5, -2.5, -3.5, 1, -3, -5.5, -2, 2.5, -5.5],
    [6, -3, -1, 3.5, .5, 3, -2, -2, -4.5, -3.5, -3.5, -5, -7, -2.5, -2.5, -3],
    [-6.5, -5.5, -1, 5.5, 1, .7, 1.5, -4, -4, -2.5, -6, -8, -4.5, 2, -7.5],
    [7, 5, -5, 1, -2, -2, 2.5, 3, 1.5, 1.5, 5.5, 4, -4, 6],
    [7, -8, 3.5, -1, -1, 3, 3, -3, .3, 3.5, 3.5, -4, 6],
    [-6, 1.5, .5, -1, .2, .3, -5, -4.5, -3, -2, -1, 2.5],
    [-2, .3, 1.5, -2.5, -1.5, 4.5, -2.5, -2.5, -5, 2.5, -7],
    [3, 3, 3, 3, -3, -1, -2.5, -4, -2.5, -2.5],
    [7.5, 7, 5, -1, -1, -3, -2, 5.5, -4.5],
    [8, 6, -.5, .2, -2.5, -3.5, 4, -5],
    [7.5, 1.5, 3.5, 3, -.7, 2.5, -.5],
    [3.5, 4.5, 3.5, .2, .2, 1],
    [5.5, 5.5, -1.5, 1, 1],
    [6.5, 1, -1.5, 4.5],
    [2.5, -1, 6],
    [-1, 5],
    [-3],
]

# panel f
HIST_LEFT = [8.6, 9.5, 10.4, 11.3, 12.2, 13.1, 14.0, 14.9, 15.8, 16.7, 17.6, 18.5, 19.4, 20.3, 21.2, 22.1, 23.0, 23.9, 24.8, 25.7,
             26.6, 27.5, 28.4, 29.3, 30.2, 31.1, 32.0, 32.9, 33.8, 34.7, 35.6]
HIST_COUNT = [3, 3, 3, 8, 420, 2190, 2470, 1810, 1103, 701, 458, 292, 177, 120, 85, 52, 33, 18, 8, 8, 12, 3, 3, 3, 2, 2, 2, 4, 2, 2, 3]
ORIGINAL_SCORE = 9.5

prop_cmap = LinearSegmentedColormap.from_list("prop", [
    (0, "#20b2a9"), (.1, "#6cc2b6"), (.2, "#b8d5ca"), (.3, "#d9dccb"), (.4, "#f5dfcb"), (.55, "#f8c587"),
    (.68, "#f2954a"), (.78, "#ec7722"), (.88, "#bc5f2a"), (1, "#843a2e")], N=56)
corr_cmap = LinearSegmentedColormap.from_list("corr", ["#2757a4", "#ffffff", "#e0213d"])

fig = plt.figure(figsize=(W / 100, H / 100), dpi=100)


def px_axes(x0, y0, x1, y1):
    return fig.add_axes([x0 / W, 1 - y1 / H, (x1 - x0) / W, (y1 - y0) / H])


def px_text(x, y, s, ha="center", va="center", **kw):
    return fig.text(x / W, 1 - y / H, s, ha=ha, va=va, **kw)


def strip_heatmap(box, values, labels, label_x):
    ax = px_axes(*box)
    ax.imshow(np.array(values, dtype=float), cmap=prop_cmap, vmin=0, vmax=1, aspect="auto", interpolation="nearest")
    ax.axis("off")
    row_h = (box[3] - box[1]) / len(labels)
    for i, lab in enumerate(labels):
        px_text(label_x, box[1] + row_h * (i + .5), lab, ha="left", fontsize=16)


def gradient_bar(box, cmap, labels, label_xs, label_y):
    ax = px_axes(*box)
    ax.imshow(np.linspace(0, 1, 256)[None, :], cmap=cmap, aspect="auto")
    ax.axis("off")
    for x, lab in zip(label_xs, labels):
        px_text(x, label_y, lab, fontsize=15)


def scatter(box, pts, xlim, ylim, xticks, yticks, xfmt, yfmt, r_text, rotate=False):
    ax = px_axes(*box)
    ax.set_facecolor("#ebebeb")
    x, y = np.array(pts).T
    ax.scatter(x, y, s=23, c="black", linewidths=0, zorder=3)
    ax.set_xlim(*xlim)
    ax.set_ylim(*ylim)
    ax.set_xticks(xticks, xfmt)
    ax.set_yticks(yticks, yfmt)
    for s in ax.spines.values():
        s.set_visible(False)
    ax.tick_params(length=5, width=.8, labelsize=15, pad=7)
    if rotate:
        plt.setp(ax.get_xticklabels(), rotation=45, ha="right", rotation_mode="anchor")
    px_text(box[0] + 6, box[1] + 14, r_text, ha="left", fontsize=FS, zorder=5)
    return ax


def corr_matrix(box, upper):
    n = len(upper) + 1
    m = np.eye(n)
    for i, row in enumerate(upper):
        assert len(row) == n - 1 - i, (i, len(row))
        m[i, i + 1:] = np.array(row) / 10
        m[i + 1:, i] = np.array(row) / 10
    ax = px_axes(*box)
    ax.pcolormesh(m, cmap=corr_cmap, vmin=-1, vmax=1, edgecolors=(1, 1, 1, .22), linewidth=.4)
    ax.invert_yaxis()
    ax.axis("off")


# panel letters
for lx, ly, letter in [(16, 18, "a"), (513, 20, "b"), (1114, 18, "c"), (16, 732, "d"), (542, 732, "e"), (1192, 731, "f")]:
    px_text(lx, ly, letter, fontsize=24, fontweight="black")

# --- a ---
px_text(71, 60, r"snRNA-seq $\mathit{n}$ = 24", ha="left", fontsize=FS)
strip_heatmap((72, 79, 488, 297), SN_MIC, MIC_LABELS, 500)
strip_heatmap((72, 347, 488, 565.5), SN_AST, AST_LABELS, 500)
px_text(39, 187, "Microglia\nsubset proportion", rotation=90, fontsize=FS, linespacing=1.1)
px_text(39, 456, "Astrocyte\nsubset proportion", rotation=90, fontsize=FS, linespacing=1.1)
px_text(370, 579, "Subset proportion", fontsize=FS)
gradient_bar((252, 597, 488, 613), prop_cmap, ["0", "0.2", "0.4", "0.6", "0.8", "1.0"], [252, 301, 350, 398, 446, 485], 631)

# --- b ---
px_text(629, 59, r"CelMod $\mathit{n}$ = 638", ha="left", fontsize=FS)
strip_heatmap((628, 78.5, 1057, 297), np.array(CM_MIC) / 100, MIC_LABELS, 1068)
strip_heatmap((628, 347, 1057, 565.5), np.array(CM_AST) / 100, AST_LABELS, 1068)
px_text(608, 188, "Subset proportion", rotation=90, fontsize=FS)
px_text(608, 456, "Subset proportion", rotation=90, fontsize=FS)
px_text(936, 579, "Subset proportion", fontsize=FS)
gradient_bar((818, 597, 1055, 613), prop_cmap, ["0", "0.2", "0.4", "0.6", "0.8", "1.0"], [818, 868, 916, 964, 1012, 1051], 631)

# --- c ---
scatter((1259.5, 76, 1459, 279.5), AST1_MIC1, (-.039, .866), (-.019, .703), [0, .2, .4, .6, .8], [0, .2, .4, .6],
        ["0", "0.2", "0.4", "0.6", "0.8"], ["0", "0.2", "0.4", "0.6"], r"$\mathit{R}$ = 0.84")
scatter((1556, 76, 1755.5, 279.5), INH3_OLI1, (.0537, .329), (-.0205, .674), [.1, .2, .3], [0, .2, .4, .6],
        ["0.1", "0.2", "0.3"], ["0", "0.2", "0.4", "0.6"], r"$\mathit{R}$ = 0.66")
scatter((1263.5, 364, 1454.5, 567.5), EXC6_INH6, (.00456, .0568), (.0043, .0945), [.01, .02, .03, .04, .05], [.025, .05, .075],
        ["0.01", "0.02", "0.03", "0.04", "0.05"], ["0.025", "0.050", "0.075"], r"$\mathit{R}$ = 0.56", rotate=True)
scatter((1556, 359, 1755.5, 562.5), INH1_AST4, (.1413, .44), (-.0306, .637), [.15, .2, .25, .3, .35, .4], [0, .2, .4, .6],
        ["0.15", "0.20", "0.25", "0.30", "0.35", "0.40"], ["0", "0.2", "0.4", "0.6"], r"$\mathit{R}$ = 0.61", rotate=True)
for cx, cy, name, rot in [(1359, 332, "Ast.1", 0), (1656, 332, "Inh.3", 0), (1358, 643, "Exc.6", 0), (1656, 643, "Inh.1", 0),
                          (1185, 178, "Mic.1", 90), (1489, 178, "Oli.1", 90), (1166, 466, "Inh.6", 90), (1492, 462, "Ast.4", 90)]:
    px_text(cx, cy, name, rotation=rot, fontsize=14 if rot == 0 else 16)
px_text(1509, 675, "CelMod proportions", fontsize=FS)
px_text(1783, 317, "CelMod proportions", rotation=-90, fontsize=FS)

# --- d, e ---
px_text(40, 768, r"snRNA-seq $\mathit{n}$ = 24", ha="left", fontsize=FS)
px_text(584, 768, r"CelMod $\mathit{n}$ = 638", ha="left", fontsize=FS)
corr_matrix((32.3, 787.3, 425, 1233.3), CORR_SN)
corr_matrix((584.7, 787.3, 977.3, 1233.3), CORR_CM)
px_text(228.5, 1255, "Cell subsets", fontsize=FS)
px_text(780.5, 1255, "Cell subsets", fontsize=FS)
px_text(444, 1010, "Cell subsets", rotation=-90, fontsize=FS)
px_text(996.5, 1010, "Cell subsets", rotation=-90, fontsize=FS)
px_text(503, 1263, "Pairwise Spearman\u2019s", fontsize=FS)
px_text(503, 1291, "correlation", fontsize=FS)
gradient_bar((418, 1308.5, 587, 1327), corr_cmap, ["\u22121.0", "\u22120.5", "0", "0.5", "1.0"], [419, 463, 504, 546, 583], 1345)

# --- f ---
ax = px_axes(1275.5, 800, 1754.5, 1156)
ax.set_facecolor("#ebebeb")
ax.bar(HIST_LEFT, HIST_COUNT, width=.9, align="edge", color="#38b6b9", linewidth=0)
ax.axvline(ORIGINAL_SCORE, color="#ed1c24", lw=2.2)
ax.set_xlim(7.25, 37)
ax.set_ylim(-122.8, 2595)
ax.set_xticks([10, 20, 30])
ax.set_yticks([0, 500, 1000, 1500, 2000, 2500], ["0", "500", "1,000", "1,500", "2,000", "2,500"])
for s in ax.spines.values():
    s.set_visible(False)
ax.tick_params(length=6, width=.8, labelsize=15, pad=7)
px_text(1173.5, 978, "No. of tests", rotation=90, fontsize=FS)
px_text(1514.5, 1218, "Similarity of correlation score", fontsize=FS)
px_text(1514.5, 1244, "(Jennrich\u2019s test)", fontsize=FS)
for ly, col, lab in [(1281, "#38b6b9", "Random permutations"), (1312, "#ed1c24", "Original correlation matrix")]:
    fig.add_artist(plt.Line2D([1277.5 / W, 1299 / W], [1 - ly / H, 1 - ly / H], color=col, lw=2.4))
    px_text(1311.5, ly, lab, ha="left", fontsize=FS)

fig.savefig("out.png", dpi=100)
